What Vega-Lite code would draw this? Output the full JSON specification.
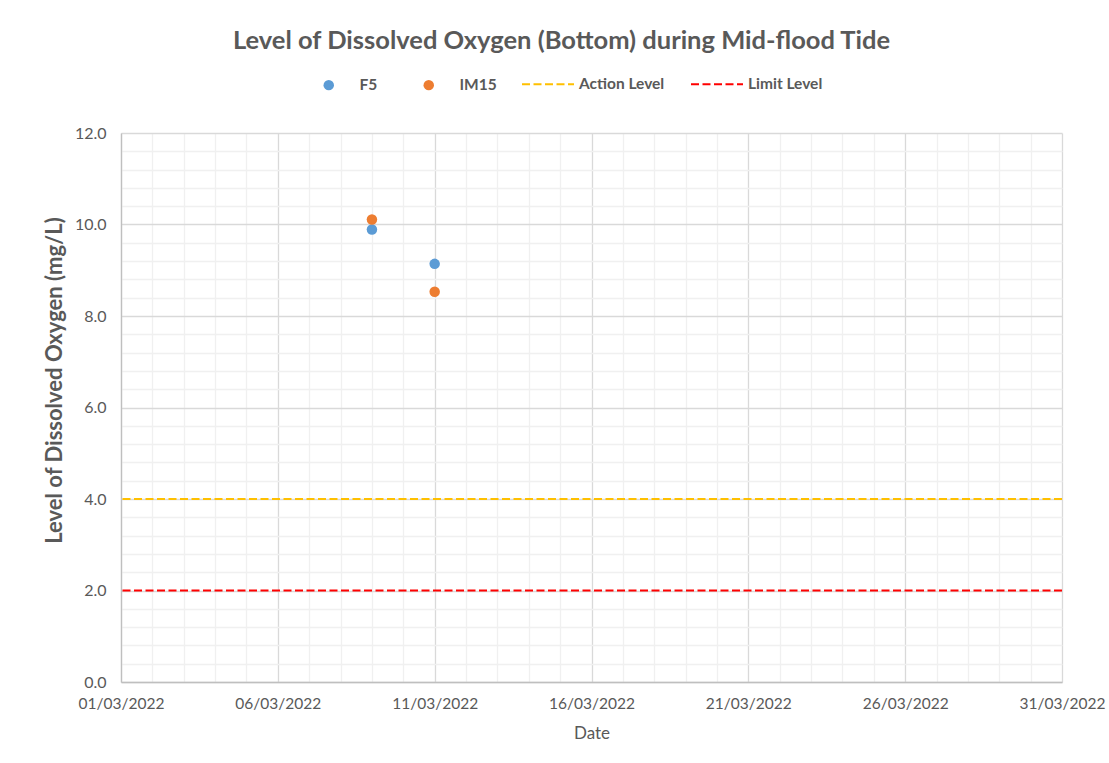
{
  "$schema": "https://vega.github.io/schema/vega-lite/v6.json",
  "width": 941,
  "height": 549,
  "autosize": {"type": "none"},
  "padding": {"left": 121, "top": 133, "right": 47, "bottom": 81},
  "background": "white",
  "title": {
    "text": "Level of Dissolved Oxygen (Bottom) during Mid-flood Tide",
    "anchor": "middle",
    "frame": "group",
    "dx": -30,
    "offset": 3,
    "font": "Lato",
    "fontSize": 25.5,
    "fontWeight": "bold",
    "color": "#595959"
  },
  "config": {
    "font": "Lato",
    "view": {"stroke": null},
    "legend": {
      "labelFont": "Lato",
      "labelFontSize": 15.5,
      "labelFontWeight": "bold",
      "labelColor": "#595959"
    }
  },
  "resolve": {"scale": {"color": "independent"}, "legend": {"color": "independent"}},
  "layer": [
    {
      "data": {
        "values": [
          {"date": "2022-03-09", "station": "F5", "do": 9.89},
          {"date": "2022-03-11", "station": "F5", "do": 9.14},
          {"date": "2022-03-09", "station": "IM15", "do": 10.11},
          {"date": "2022-03-11", "station": "IM15", "do": 8.53}
        ]
      },
      "mark": {"type": "point", "filled": true, "opacity": 1, "size": 110, "shape": "circle"},
      "encoding": {
        "x": {
          "field": "date",
          "type": "temporal",
          "title": "Date",
          "scale": {
            "type": "utc",
            "domain": [
              {"year": 2022, "month": 3, "date": 1, "utc": true},
              {"year": 2022, "month": 3, "date": 31, "utc": true}
            ]
          },
          "axis": {
            "values": [
              {"year": 2022, "month": 3, "date": 1, "utc": true},
              {"year": 2022, "month": 3, "date": 2, "utc": true},
              {"year": 2022, "month": 3, "date": 3, "utc": true},
              {"year": 2022, "month": 3, "date": 4, "utc": true},
              {"year": 2022, "month": 3, "date": 5, "utc": true},
              {"year": 2022, "month": 3, "date": 6, "utc": true},
              {"year": 2022, "month": 3, "date": 7, "utc": true},
              {"year": 2022, "month": 3, "date": 8, "utc": true},
              {"year": 2022, "month": 3, "date": 9, "utc": true},
              {"year": 2022, "month": 3, "date": 10, "utc": true},
              {"year": 2022, "month": 3, "date": 11, "utc": true},
              {"year": 2022, "month": 3, "date": 12, "utc": true},
              {"year": 2022, "month": 3, "date": 13, "utc": true},
              {"year": 2022, "month": 3, "date": 14, "utc": true},
              {"year": 2022, "month": 3, "date": 15, "utc": true},
              {"year": 2022, "month": 3, "date": 16, "utc": true},
              {"year": 2022, "month": 3, "date": 17, "utc": true},
              {"year": 2022, "month": 3, "date": 18, "utc": true},
              {"year": 2022, "month": 3, "date": 19, "utc": true},
              {"year": 2022, "month": 3, "date": 20, "utc": true},
              {"year": 2022, "month": 3, "date": 21, "utc": true},
              {"year": 2022, "month": 3, "date": 22, "utc": true},
              {"year": 2022, "month": 3, "date": 23, "utc": true},
              {"year": 2022, "month": 3, "date": 24, "utc": true},
              {"year": 2022, "month": 3, "date": 25, "utc": true},
              {"year": 2022, "month": 3, "date": 26, "utc": true},
              {"year": 2022, "month": 3, "date": 27, "utc": true},
              {"year": 2022, "month": 3, "date": 28, "utc": true},
              {"year": 2022, "month": 3, "date": 29, "utc": true},
              {"year": 2022, "month": 3, "date": 30, "utc": true},
              {"year": 2022, "month": 3, "date": 31, "utc": true}
            ],
            "tickCount": 40,
            "labelExpr": "utcdate(datum.value) % 5 == 1 ? utcFormat(datum.value, '%d/%m/%Y') : ''",
            "labelOverlap": false,
            "labelBound": false,
            "labelFlush": false,
            "labelFont": "Lato",
            "labelFontSize": 15.5,
            "labelColor": "#595959",
            "labelPadding": 14,
            "ticks": false,
            "domainColor": "#BFBFBF",
            "domainWidth": 1.3,
            "grid": true,
            "gridColor": {"condition": {"test": "utcdate(datum.value) % 5 == 1", "value": "#D9D9D9"}, "value": "#F0F0F0"},
            "gridWidth": 1.3,
            "title": "Date",
            "titleFont": "Lato",
            "titleFontSize": 17,
            "titleFontWeight": "normal",
            "titleColor": "#595959",
            "titlePadding": 14
          }
        },
        "y": {
          "field": "do",
          "type": "quantitative",
          "scale": {"domain": [0, 12], "nice": false, "zero": true},
          "axis": {
            "values": [0, 0.4, 0.8, 1.2, 1.6, 2, 2.4, 2.8, 3.2, 3.6, 4, 4.4, 4.8, 5.2, 5.6, 6, 6.4, 6.8, 7.2, 7.6, 8, 8.4, 8.8, 9.2, 9.6, 10, 10.4, 10.8, 11.2, 11.6, 12],
            "tickCount": 40,
            "labelExpr": "abs(datum.value - round(datum.value / 2) * 2) < 0.01 ? format(datum.value, '.1f') : ''",
            "labelOverlap": false,
            "labelBound": false,
            "labelFlush": false,
            "labelFont": "Lato",
            "labelFontSize": 16,
            "labelColor": "#595959",
            "labelPadding": 15,
            "ticks": false,
            "domainColor": "#BFBFBF",
            "domainWidth": 1.3,
            "grid": true,
            "gridColor": {"condition": {"test": "abs(datum.value - round(datum.value / 2) * 2) < 0.01", "value": "#D9D9D9"}, "value": "#F0F0F0"},
            "gridWidth": 1.3,
            "title": "Level of Dissolved Oxygen (mg/L)",
            "titleFont": "Lato",
            "titleFontSize": 22,
            "titleFontWeight": "bold",
            "titleColor": "#595959",
            "titlePadding": 8,
            "titleY": 247
          }
        },
        "color": {
          "field": "station",
          "type": "nominal",
          "scale": {"domain": ["F5", "IM15"], "range": ["#5B9BD5", "#ED7D31"]},
          "legend": {
            "title": null,
            "orient": "none",
            "direction": "horizontal",
            "legendX": 200,
            "legendY": -56,
            "symbolType": "circle",
            "symbolSize": 110,
            "labelOffset": 23,
            "columnPadding": 43
          }
        }
      }
    },
    {
      "data": {
        "values": [
          {"level": "Action Level", "value": 4},
          {"level": "Limit Level", "value": 2}
        ]
      },
      "mark": {"type": "rule", "strokeDash": [8, 3.5], "strokeWidth": 2},
      "encoding": {
        "y": {"field": "value", "type": "quantitative"},
        "color": {
          "field": "level",
          "type": "nominal",
          "scale": {"domain": ["Action Level", "Limit Level"], "range": ["#FFC000", "#FF0000"]},
          "legend": {
            "title": null,
            "orient": "none",
            "direction": "horizontal",
            "legendX": 400,
            "legendY": -76,
            "symbolType": "stroke",
            "symbolSize": 2704,
            "symbolStrokeWidth": 2,
            "symbolDash": [8, 3.5],
            "labelOffset": 4,
            "columnPadding": 22
          }
        }
      }
    }
  ]
}
